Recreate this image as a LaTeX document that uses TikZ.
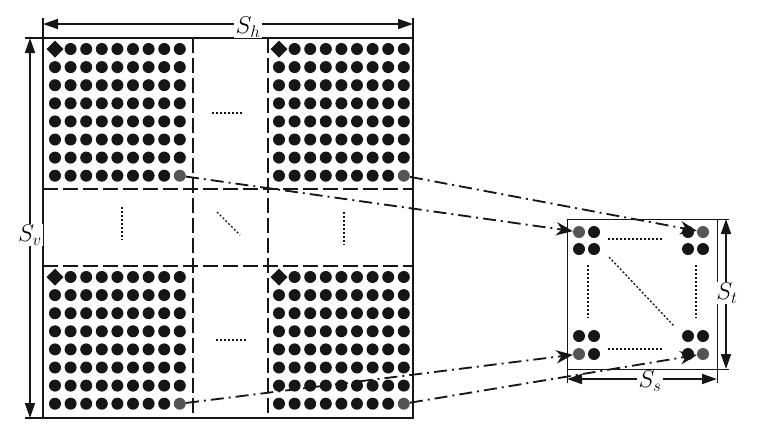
\documentclass[tikz,border=0pt]{standalone}
\usepackage{amsmath}
\usetikzlibrary{arrows.meta}
\definecolor{ink}{RGB}{22,22,22}
\definecolor{pin}{RGB}{85,85,85}
\tikzset{
  ball/.style={circle,fill=ink,minimum size=3.6mm,inner sep=0pt},
  gball/.style={circle,fill=pin,minimum size=3.6mm,inner sep=0pt},
  frame/.style={draw=ink,line width=0.4mm},
  cut/.style={draw=ink,line width=0.6mm,dash pattern=on 4.5mm off 1.5mm},
  dots/.style={draw=ink,line width=0.4mm,dash pattern=on 0.6mm off 0.6mm},
  dim/.style={draw=ink,line width=0.5mm,{Triangle[length=4.5mm,width=3mm]}-{Triangle[length=4.5mm,width=3mm]}},
  link/.style={draw=ink,line width=0.55mm,dash pattern=on 3.9mm off 1.5mm on 0.6mm off 1.5mm,
    -{Stealth[length=5mm,width=4mm]}},
  lab/.style={fill=white,inner sep=1pt,font=\fontsize{21}{25}\selectfont},
}
\begin{document}
\begin{tikzpicture}[x=0.3mm,y=-0.3mm]
\useasboundingbox (0,0) rectangle (776,432);
% plate with four pin blocks
\draw[frame] (43,38) rectangle (413,418);
\draw[frame] (43,18) -- (43,38) (413,18) -- (413,38);
\draw[frame] (25,38) -- (43,38) (25,418) -- (43,418);
\draw[cut] (193,38) -- (193,418);
\draw[cut] (268,38) -- (268,418);
\draw[cut] (43,189) -- (413,189);
\draw[cut] (43,266) -- (413,266);
\foreach \bx/\by/\nm in {55/49/tlq, 279/49/trq, 55/277/blq, 279/277/brq}{
  \foreach \i in {0,...,8}{
    \foreach \j in {0,...,7}{
      \ifnum\i\j=0 \else\ifnum\i\j=87 \else
        \node[ball] at (\bx+\i*15.6,\by+\j*18.1) {};
      \fi\fi
    }
  }
  \fill[ink] (\bx-8.5,\by) -- ++(8.5,-8.5) -- ++(8.5,8.5) -- ++(-8.5,8.5) -- cycle;
  \node[gball] (\nm) at (\bx+8*15.6,\by+7*18.1) {};
}
\draw[dots] (212,113) -- (242,113);
\draw[dots] (216,340) -- (248,340);
\draw[dots] (122,207) -- (122,240);
\draw[dots] (344,212) -- (344,245);
\draw[dots] (217,212) -- (240,235);
% dimensions of the plate
\coordinate (hl) at (43,24);
\coordinate (hr) at (413,24);
\draw[dim] (hl) -- (hr);
\node[lab] (sh) at (248,27) {$S_h$};
\coordinate (vt) at (30,38);
\coordinate (vb) at (30,418);
\draw[dim] (vt) -- (vb);
\node[lab] (sv) at (30,235) {$S_v$};
% single cell
\draw[frame,line width=0.3mm] (567,219) rectangle (717,369);
\draw[frame,line width=0.3mm] (717,219) -- (729,219) (717,369) -- (729,369);
\draw[frame,line width=0.3mm] (567,369) -- (567,383) (717,369) -- (717,383);
\foreach \x/\y in {594/232, 579/249, 594/249, 688/232, 688/249, 703/249,
                   579/336, 594/336, 594/354, 688/336, 703/336, 688/354}{
  \node[ball] at (\x,\y) {};
}
\node[gball] (stl) at (579,232) {};
\node[gball] (str) at (703,232) {};
\node[gball] (sbl) at (579,354) {};
\node[gball] (sbr) at (703,354) {};
\draw[dots] (608,239) -- (663,239);
\draw[dots] (608,349) -- (663,349);
\draw[dots] (588,265) -- (588,318);
\draw[dots] (696,265) -- (696,318);
\draw[dots] (609,257) -- (674,326);
\coordinate (tt) at (726,219);
\coordinate (tb) at (726,369);
\draw[dim] (tt) -- (tb);
\node[lab] (st) at (727,293) {$S_t$};
\coordinate (sl) at (567,379);
\coordinate (sr) at (717,379);
\draw[dim] (sl) -- (sr);
\node[lab] (ss) at (650,381) {$S_s$};
% block corners onto the cell
\draw[link] (tlq) -- (stl);
\draw[link] (trq) -- (str);
\draw[link] (blq) -- (sbl);
\draw[link] (brq) -- (sbr);
\end{tikzpicture}
\end{document}
